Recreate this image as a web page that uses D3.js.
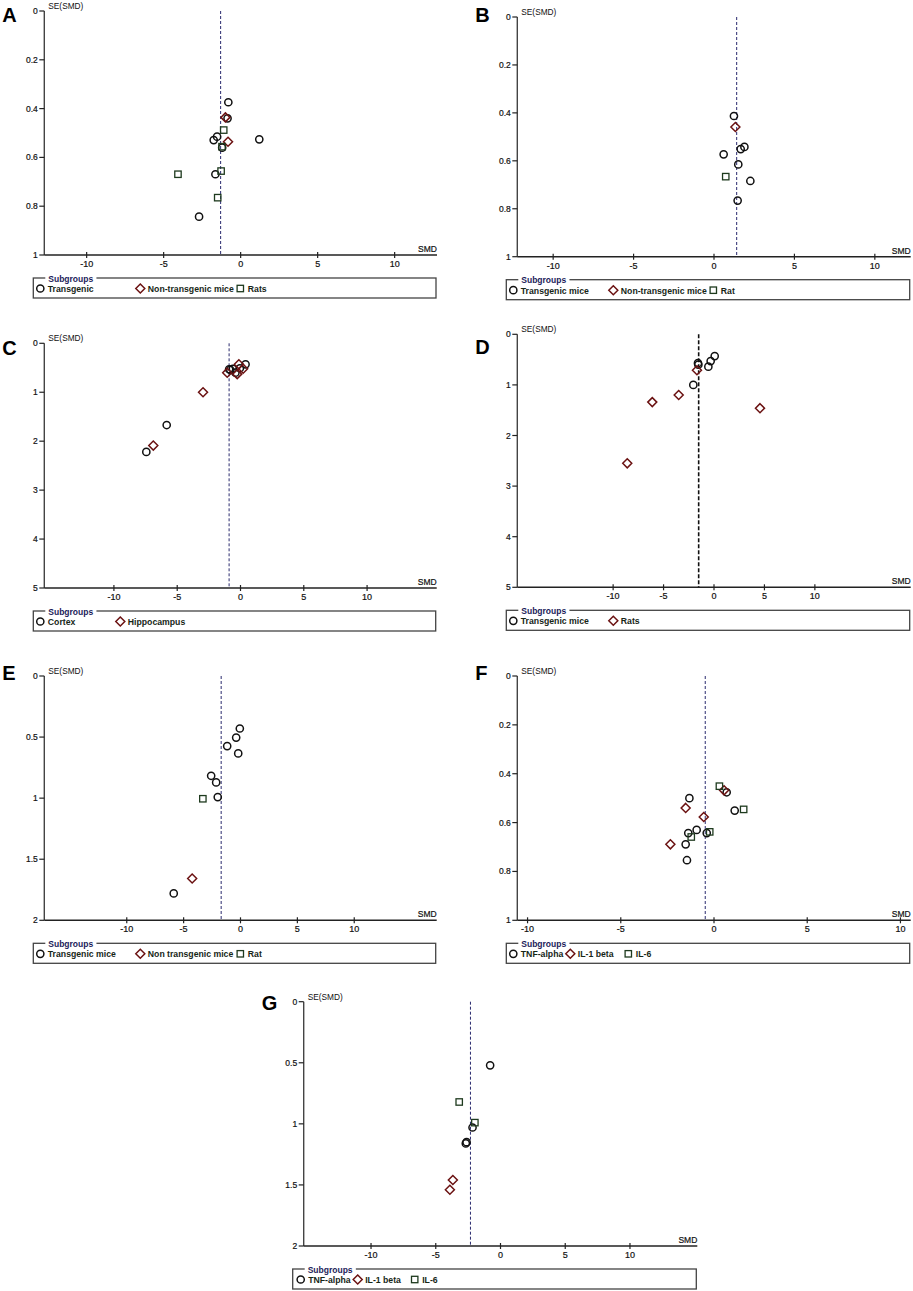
<!DOCTYPE html>
<html>
<head>
<meta charset="utf-8">
<script src="https://cdn.jsdelivr.net/npm/d3@7"></script>
<style>
  body { margin: 0; background: #fff; }
  svg { display: block; font-family: "Liberation Sans", Arial, sans-serif; }
</style>
</head>
<body>
<div id="chart"></div>
<script>
// funnel plot data: [group index, SMD, SE(SMD)]
const pointsA = [
  [0, -0.8, 0.374], [0, -0.85, 0.44], [0, -1.53, 0.515], [0, -1.75, 0.529], [0, 1.21, 0.526],
  [0, -1.2, 0.56], [0, -1.64, 0.669], [0, -2.7, 0.843],
  [1, -0.99, 0.436], [1, -0.82, 0.536],
  [2, -1.1, 0.488], [2, -1.21, 0.556], [2, -1.27, 0.656], [2, -4.07, 0.669], [2, -1.49, 0.765]
];
const pointsB = [
  [0, 1.24, 0.413], [0, 1.66, 0.551], [0, 1.89, 0.542], [0, 0.60, 0.573], [0, 1.51, 0.615],
  [0, 2.26, 0.684], [0, 1.47, 0.766],
  [1, 1.33, 0.459],
  [2, 0.73, 0.666]
];
const pointsC = [
  [0, -5.83, 1.67], [0, -7.44, 2.22], [0, 0.40, 0.43], [0, -0.05, 0.51], [0, -0.4, 0.6],
  [0, -0.8, 0.545], [0, -0.6, 0.52], [0, -0.9, 0.53],
  [1, -2.96, 1.0], [1, -6.89, 2.09], [1, -0.13, 0.43], [1, 0.21, 0.52], [1, -0.26, 0.63], [1, -1.05, 0.6]
];
const pointsD = [
  [0, 0.07, 0.43], [0, -0.33, 0.53], [0, -0.56, 0.64], [0, -1.59, 0.57], [0, -1.55, 0.6], [0, -2.05, 1.0],
  [1, -1.69, 0.71], [1, -3.5, 1.2], [1, -6.12, 1.34], [1, 4.56, 1.46], [1, -8.6, 2.55]
];
const pointsE = [
  [0, -0.06, 0.43], [0, -0.38, 0.504], [0, -1.17, 0.574], [0, -0.2, 0.634], [0, -2.58, 0.817],
  [0, -2.14, 0.871], [0, -2.0, 0.991], [0, -5.87, 1.78],
  [1, -4.25, 1.658],
  [2, -3.31, 1.005]
];
const pointsF = [
  [0, 0.68, 0.476], [0, -1.32, 0.5], [0, 1.11, 0.551], [0, -0.93, 0.63], [0, -1.38, 0.643],
  [0, -0.39, 0.643], [0, -1.52, 0.689], [0, -1.45, 0.754],
  [1, 0.54, 0.468], [1, -1.52, 0.54], [1, -0.55, 0.577], [1, -2.34, 0.689],
  [2, 0.29, 0.451], [2, 1.59, 0.546], [2, -1.22, 0.659], [2, -0.23, 0.638]
];
const pointsG = [
  [0, -0.8, 0.521], [0, -2.16, 1.03], [0, -2.62, 1.15], [0, -2.68, 1.16],
  [1, -3.68, 1.46], [1, -3.91, 1.54],
  [2, -3.19, 0.821], [2, -1.98, 0.99]
];

// pooled SMD (dashed line)
const pooledSmd = { A: -1.3, B: 1.41, C: -0.9, D: -1.52, E: -1.7, F: -0.47, G: -2.32 };

// legend labels
const legendA = ["Transgenic", "Non-transgenic mice", "Rats"];
const legendB = ["Transgenic mice", "Non-transgenic mice", "Rat"];
const legendC = ["Cortex", "Hippocampus"];
const legendD = ["Transgenic mice", "Rats"];
const legendE = ["Transgenic mice", "Non transgenic mice", "Rat"];
const legendF = ["TNF-alpha", "IL-1 beta", "IL-6"];
const legendG = ["TNF-alpha", "IL-1 beta", "IL-6"];

// tick values
const xTicks = [-10, -5, 0, 5, 10];
const yTicksSmall = [0, 0.2, 0.4, 0.6, 0.8, 1];
const yTicksFive = [0, 1, 2, 3, 4, 5];
const yTicksTwo = [0, 0.5, 1, 1.5, 2];

const width = 913, height = 1291;
const svg = d3.select("#chart").append("svg")
  .attr("width", width).attr("height", height);
svg.append("rect").attr("width", width).attr("height", height).attr("fill", "#fff");

const shapeColor = ["#111", "#6b1212", "#1e3a1e"];

// layout of each panel (pixels)
const panels = [
  { id: "A", pts: pointsA, legend: legendA, yTicks: yTicksSmall, yMax: 1, xDom: 12.75,
    left: 44.3, right: 437, top: 11, bottom: 255, letterY: 22, legX: [7, 107, 207] },
  { id: "B", pts: pointsB, legend: legendB, yTicks: yTicksSmall, yMax: 1, xDom: 12.23,
    left: 517.3, right: 910.7, top: 17, bottom: 256.7, letterY: 22, legX: [7, 107, 207] },
  { id: "C", pts: pointsC, legend: legendC, yTicks: yTicksFive, yMax: 5, xDom: 15.5,
    left: 44.3, right: 436.7, top: 343.3, bottom: 588, letterY: 355, legX: [7, 87] },
  { id: "D", pts: pointsD, legend: legendD, yTicks: yTicksFive, yMax: 5, xDom: 19.5,
    left: 517.3, right: 910.7, top: 334.3, bottom: 587.3, letterY: 354, legX: [7, 107], heavyDash: true },
  { id: "E", pts: pointsE, legend: legendE, yTicks: yTicksTwo, yMax: 2, xDom: 17.25,
    left: 44.3, right: 436.7, top: 676, bottom: 920.3, letterY: 680, legX: [7, 107, 207] },
  { id: "F", pts: pointsF, legend: legendF, yTicks: yTicksSmall, yMax: 1, xDom: 10.55,
    left: 517.3, right: 910.7, top: 676, bottom: 920.3, letterY: 680, legX: [7, 64, 122] },
  { id: "G", pts: pointsG, legend: legendG, yTicks: yTicksTwo, yMax: 2, xDom: 15.2,
    left: 303.7, right: 697.3, top: 1001.7, bottom: 1246, letterY: 1010, legX: [8, 65, 122] }
];

function drawSymbol(g, type, x, y) {
  const col = shapeColor[type];
  if (type === 0) {
    g.append("circle").attr("cx", x).attr("cy", y).attr("r", 3.6)
      .attr("fill", "none").attr("stroke", col).attr("stroke-width", 1.5);
  } else if (type === 1) {
    const s = 4.5;
    g.append("path")
      .attr("d", `M${x},${y - s}L${x + s},${y}L${x},${y + s}L${x - s},${y}Z`)
      .attr("fill", "none").attr("stroke", col).attr("stroke-width", 1.5);
  } else {
    g.append("rect").attr("x", x - 3.2).attr("y", y - 3.2).attr("width", 6.4).attr("height", 6.4)
      .attr("fill", "none").attr("stroke", col).attr("stroke-width", 1.3);
  }
}

function drawPanel(p) {
  const g = svg.append("g").attr("class", "panel-" + p.id);
  const xScale = d3.scaleLinear().domain([-p.xDom, p.xDom]).range([p.left, p.right]);
  const yScale = d3.scaleLinear().domain([0, p.yMax]).range([p.top, p.bottom]);

  // panel letter
  g.append("text").attr("x", p.left - 42).attr("y", p.letterY)
    .attr("font-size", 20).attr("font-weight", "bold").attr("fill", "#000").text(p.id);

  // axes
  g.append("line").attr("x1", p.left).attr("x2", p.left)
    .attr("y1", p.top).attr("y2", p.bottom).attr("stroke", "#444").attr("stroke-width", 1.4);
  g.append("line").attr("x1", p.left).attr("x2", p.right)
    .attr("y1", p.bottom).attr("y2", p.bottom).attr("stroke", "#222").attr("stroke-width", 1.4);

  p.yTicks.forEach(t => {
    const y = yScale(t);
    g.append("line").attr("x1", p.left - 5).attr("x2", p.left)
      .attr("y1", y).attr("y2", y).attr("stroke", "#222").attr("stroke-width", 1.2);
    g.append("text").attr("x", p.left - 6.5).attr("y", y + 3)
      .attr("text-anchor", "end").attr("font-size", 8.5).attr("fill", "#111")
      .attr("stroke", "#111").attr("stroke-width", 0.2).text(d3.format("~g")(t));
  });
  xTicks.forEach(t => {
    const x = xScale(t);
    g.append("line").attr("x1", x).attr("x2", x)
      .attr("y1", p.bottom - 3).attr("y2", p.bottom + 3).attr("stroke", "#222").attr("stroke-width", 1.2);
    g.append("text").attr("x", x).attr("y", p.bottom + 12)
      .attr("text-anchor", "middle").attr("font-size", 9).attr("fill", "#111")
      .attr("stroke", "#111").attr("stroke-width", 0.2).text(t);
  });

  g.append("text").attr("x", p.left + 4).attr("y", p.top - 2)
    .attr("font-size", 8.3).attr("fill", "#111").text("SE(SMD)");
  g.append("text").attr("x", p.right).attr("y", p.bottom - 3)
    .attr("text-anchor", "end").attr("font-size", 8.5).attr("fill", "#111")
    .attr("stroke", "#111").attr("stroke-width", 0.2).text("SMD");

  // pooled estimate
  g.append("line")
    .attr("x1", xScale(pooledSmd[p.id])).attr("x2", xScale(pooledSmd[p.id]))
    .attr("y1", p.top).attr("y2", p.bottom)
    .attr("stroke", p.heavyDash ? "#111" : "#2a2a6e")
    .attr("stroke-width", p.heavyDash ? 1.6 : 1)
    .attr("stroke-dasharray", p.heavyDash ? "4,2" : "3,2");

  // points
  p.pts.forEach(d => drawSymbol(g, d[0], xScale(d[1]), yScale(d[2])));

  // legend
  const boxL = p.left - 11, boxT = p.bottom + 23;
  g.append("rect").attr("x", boxL).attr("y", boxT)
    .attr("width", p.right - 1 - boxL).attr("height", 20)
    .attr("fill", "none").attr("stroke", "#444").attr("stroke-width", 1.3);
  const title = g.append("text").attr("x", boxL + 15).attr("y", boxT + 3.5)
    .attr("font-size", 8.5).attr("font-weight", "bold").attr("fill", "#1c1c5a").text("Subgroups");
  const bb = title.node().getBBox();
  g.insert("rect", "text:last-child").attr("x", bb.x - 3).attr("y", boxT - 2)
    .attr("width", bb.width + 6).attr("height", 4).attr("fill", "#fff");
  p.legend.forEach((label, i) => {
    const sx = boxL + p.legX[i];
    drawSymbol(g, i, sx, boxT + 10.5);
    g.append("text").attr("x", sx + 7.5).attr("y", boxT + 14)
      .attr("font-size", 8.7).attr("font-weight", "bold").attr("fill", "#162616").text(label);
  });
}

panels.forEach(drawPanel);
</script>
</body>
</html>
